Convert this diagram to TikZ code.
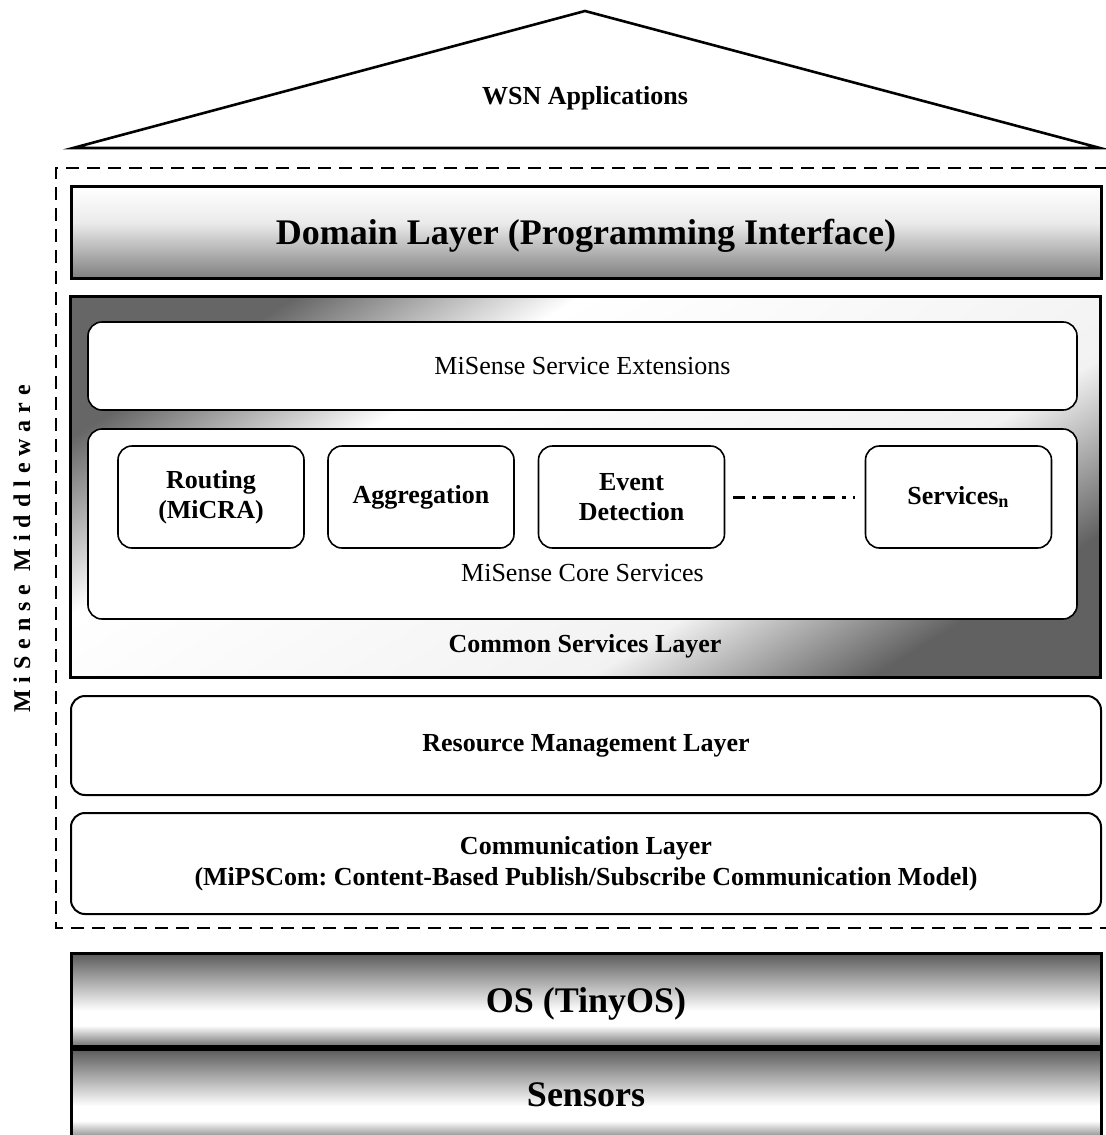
\documentclass[tikz,border=0pt]{standalone}
\usepackage{fontspec}
\setmainfont{Liberation Serif}
\newfontfamily\spacedfont[LetterSpace=29]{Liberation Serif}
\usetikzlibrary{positioning}
\pgfdeclarehorizontalshading{sweep}{100bp}{color(0bp)=(black!60); color(25bp)=(black!60); color(37bp)=(white); color(63bp)=(white!95!black); color(75bp)=(black!62); color(100bp)=(black!62)}
\pgfdeclareverticalshading{drum}{100bp}{color(0bp)=(black!55); color(25bp)=(black!55); color(36bp)=(white); color(44bp)=(white); color(75bp)=(black!65); color(100bp)=(black!65)}
\pgfdeclareverticalshading{slab}{100bp}{color(0bp)=(black!50); color(25bp)=(black!50); color(55bp)=(black!8); color(75bp)=(white); color(100bp)=(white)}
\begin{document}
\begin{tikzpicture}[x=0.5pt,y=-0.5pt,
  layer/.style={draw,line width=1.5pt,minimum width=515pt,inner sep=0pt},
  panel/.style={draw,fill=white,rounded corners=7pt,line width=0.8pt,inner sep=0pt},
  svc/.style={panel,minimum width=93pt,minimum height=51pt,align=center,font=\bfseries\fontsize{13}{15}\selectfont},
  lbl/.style={inner sep=0pt,align=center,font=\bfseries\fontsize{13}{15.5}\selectfont},
  big/.style={text depth=0pt,font=\bfseries\fontsize{18}{22}\selectfont},
  frame/.style={line width=1.2pt,dash pattern=on 6.5pt off 4pt},
  dotline/.style={line width=1.5pt,dash pattern=on 6pt off 3.5pt on 2pt off 3.5pt}]
\useasboundingbox (0,0) rectangle (1105,1135);

% applications roof
\draw[line width=1.3pt] (585,11) -- (1100,148) -- (73,148) -- cycle;
\node[lbl] (apps) at (585,98) {WSN Applications};

% middleware frame
\draw[frame] (1108,168) -- (56,168) -- (56,928) -- (1108,928);
\node[rotate=90,inner sep=0pt,font=\spacedfont\bfseries\fontsize{12}{14}\selectfont] (mw) at (22,549) {MiSense Middleware};

% domain layer
\node[layer,big,shade,shading=slab,minimum height=46pt] (dom) at (586,232) {Domain Layer (Programming Interface)};

% common services layer
\node[layer,shade,shading=sweep,shading angle=-58,minimum height=190.5pt] (csl) at (585,486.5) {};
\node[lbl] (csltxt) at (585,646) {Common Services Layer};
\node[panel,minimum width=494.5pt,minimum height=44pt,font=\fontsize{13}{15}\selectfont] (ext) at (582.5,366) {MiSense Service Extensions};
\node[panel,minimum width=494.5pt,minimum height=95pt] (core) at (582.5,524) {};
\node[inner sep=0pt,font=\fontsize{13}{15}\selectfont] (coretxt) at (582.5,573) {MiSense Core Services};
\node[svc] (route) at (211,497) {Routing\\(MiCRA)};
\node[svc] (aggr) at (421,497) {Aggregation};
\node[svc] (event) at (631.5,497) {Event\\Detection};
\node[svc] (servn) at (958.5,497) {Services\textsubscript{n}};
\draw[dotline,shorten <=4pt,shorten >=5pt] (event) -- (servn);

% resource and communication
\node[panel,lbl,line width=1pt,minimum width=515pt,minimum height=49.5pt] (res) at (586,745.5) {Resource Management Layer};
\node[panel,lbl,line width=1pt,minimum width=515pt,minimum height=50.5pt] (comm) at (586,863.5) {Communication Layer\\(MiPSCom:\ Content-Based Publish/Subscribe Communication Model)};

% platform
\node[layer,big,shade,shading=drum,minimum height=46.5pt] (os) at (586,999.5) {OS (TinyOS)};
\node[layer,big,shade,shading=drum,minimum height=46pt,anchor=north] (sens) at (os.south) {Sensors};
\end{tikzpicture}
\end{document}
